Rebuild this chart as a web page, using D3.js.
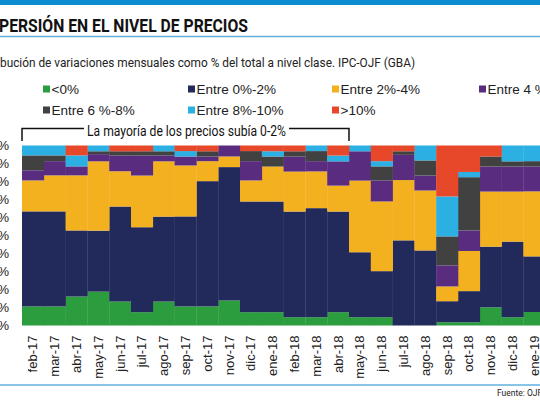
<!DOCTYPE html>
<html><head><meta charset="utf-8">
<script src="https://cdn.jsdelivr.net/npm/d3@7"></script>
<style>body{margin:0;background:#fff;} svg{display:block;}</style>
</head><body>
<svg id="chart" width="540" height="405"></svg>
<script>
// ---- data ----
const months = ["feb-17","mar-17","abr-17","may-17","jun-17","jul-17","ago-17","sep-17","oct-17","nov-17","dic-17","ene-18",
                "feb-18","mar-18","abr-18","may-18","jun-18","jul-18","ago-18","sep-18","oct-18","nov-18","dic-18","ene-19"];
const seriesNames = ["<0%","Entre 0%-2%","Entre 2%-4%","Entre 4 %-6%","Entre 6 %-8%","Entre 8%-10%",">10%"];
const seriesColors = ["#2b9d3f","#222a5c","#f3b01f","#5a2c80","#414141","#2cafe2","#e7482a"];
const negative  = [10.6,10.6,16.1,18.8,13.3,7.4,13.3,10.6,10.6,13.9,7.4,7.4,4.6,4.6,7.4,4.6,4.6,0,0,1.8,1.8,10.1,4.6,7.5];
const from0to2  = [52.8,52.8,36.7,33.9,52.8,47.2,47.2,50.0,69.6,74.1,61.5,61.5,58.7,60.6,55.9,36.1,25.6,47.3,41.7,11.7,17.3,33.7,42.0,30.9];
const from2to4  = [17.2,20.0,30.6,38.5,19.6,28.7,30.7,28.3,11.1,5.9,11.7,19.4,22.2,20.4,14.4,39.8,38.7,33.5,33.3,8.2,22.3,30.6,27.8,36.1];
const from4to6  = [5.6,7.9,5.0,4.0,8.7,11.1,3.2,5.0,2.6,6.1,10.7,0,8.3,5.7,13.5,16.3,11.7,14.0,8.3,11.7,11.4,13.9,13.9,13.9];
const from6to8  = [8.3,3.2,0,1.6,2.4,2.4,2.4,0,2.9,0,5.6,5.6,3.0,5.6,0,0,7.8,2.0,8.4,16.1,29.6,5.6,2.9,2.9];
const from8to10 = [5.5,5.5,6.1,3.2,0,0,3.2,3.0,0,0,0,2.9,0,3.1,3.2,3.2,2.9,0,8.3,22.2,2.9,0,8.8,8.7];
const over10    = [0,0,5.5,0,3.2,3.2,0,3.1,3.2,0,3.1,3.2,3.2,0,5.6,0,8.7,3.2,0,28.3,14.7,6.1,0,0];
const yTicks = [0,10,20,30,40,50,60,70,80,90,100];

const seriesValues = [negative, from0to2, from2to4, from4to6, from6to8, from8to10, over10];
const keys = seriesNames;
const table = months.map((m,i)=>{ const o={month:m}; keys.forEach((k,j)=>o[k]=seriesValues[j][i]); return o; });

const svg = d3.select("#chart");
const FONT = "'Liberation Sans', Arial, sans-serif";

// header decorations
svg.append("rect").attr("x",0).attr("y",0).attr("width",540).attr("height",5).attr("fill","#0b8ed1");
svg.append("line").attr("x1",0).attr("x2",540).attr("y1",36.5).attr("y2",36.5).attr("stroke","#5fb0dc").attr("stroke-width",1.5);
svg.append("line").attr("x1",0).attr("x2",540).attr("y1",385).attr("y2",385).attr("stroke","#5fb0dc").attr("stroke-width",1.5);

// fit a cropped text so that its visible part spans [x0,x1]
function croppedText(full, hiddenPrefix, x0, x1, y, size, weight, family, fill){
  const t = svg.append("text").attr("y",y).attr("font-size",size).attr("font-weight",weight)
    .attr("font-family",family).attr("fill",fill).text(full);
  const wFull = t.node().getComputedTextLength();
  const tmp = svg.append("text").attr("font-size",size).attr("font-weight",weight).attr("font-family",family)
    .text(full.slice(hiddenPrefix.length));
  const wVis = tmp.node().getComputedTextLength(); tmp.remove();
  const s = (x1-x0)/wVis;
  t.attr("x", x1 - wFull*s).attr("textLength", wFull*s).attr("lengthAdjust","spacingAndGlyphs");
  return t;
}
croppedText("DISPERSIÓN EN EL NIVEL DE PRECIOS","DIS",-1,248,32,19,700,"Roboto, 'Liberation Sans', sans-serif","#111");
croppedText("Distribución de variaciones mensuales como % del total a nivel clase. IPC-OJF (GBA)","Distri",0,415,67,13,400,"Roboto, 'Liberation Sans', sans-serif","#222");

// legend
const legendPos = [[43,89],[188,89],[332,89],[479,89],[43,110],[188,110],[332,110]];
seriesNames.forEach((n,i)=>{
  const [lx,ly] = legendPos[i];
  svg.append("rect").attr("x",lx).attr("y",ly-3.5).attr("width",7).attr("height",7).attr("fill",seriesColors[i]);
  svg.append("text").attr("x",lx+8.5).attr("y",ly+4.8).attr("font-family",FONT).attr("font-size",13.5)
    .attr("fill","#222").text(n);
});

// scales
const x = d3.scaleBand().domain(months).range([22, 22+24*21.8]).paddingInner(0).paddingOuter(0);
const y = d3.scaleLinear().domain([0,100]).range([325.5,145.5]);

const stack = d3.stack().keys(keys);
const layers = stack(table);

svg.append("g").selectAll("g").data(layers).join("g")
  .attr("fill",(d,i)=>seriesColors[i])
  .selectAll("rect").data(d=>d).join("rect")
  .attr("x",d=>x(d.data.month))
  .attr("width",x.bandwidth()+0.3)
  .attr("y",d=>y(d[1]))
  .attr("height",d=>Math.max(0,y(d[0])-y(d[1])));

// y axis
const yAxis = svg.append("g").attr("transform","translate(9,0)")
  .call(d3.axisLeft(y).tickValues(yTicks).tickSize(0).tickPadding(0).tickFormat(d=>d+"%"));
yAxis.select(".domain").remove();
yAxis.selectAll("text").attr("font-family",FONT).attr("font-size",13).attr("fill","#222");

// x axis
const xAxis = svg.append("g").attr("transform","translate(0,325.5)")
  .call(d3.axisBottom(x).tickSize(0));
xAxis.select(".domain").remove();
xAxis.selectAll("text").attr("font-family",FONT).attr("font-size",13).attr("fill","#222")
  .attr("transform","rotate(-90)").attr("x",-10).attr("y",0).attr("dy","0.35em").style("text-anchor","end");

// bracket annotation
const bx0 = x("feb-17"), bx1 = x("abr-18")+x.bandwidth();
const by = 128.5;
const ann = svg.append("text").attr("y",136).attr("font-family","Roboto, 'Liberation Sans', sans-serif")
  .attr("font-size",14).attr("fill","#111").text("La mayoría de los precios subía 0-2%");
ann.attr("x",87).attr("textLength",199).attr("lengthAdjust","spacingAndGlyphs");
const bp = d3.path();
bp.moveTo(bx0, 141); bp.lineTo(bx0, by); bp.lineTo(84, by);
bp.moveTo(289, by); bp.lineTo(bx1, by); bp.lineTo(bx1, 141);
svg.append("path").attr("d",bp.toString()).attr("fill","none").attr("stroke","#111").attr("stroke-width",1.5);

// source
svg.append("text").attr("x",497).attr("y",396).attr("font-family","Roboto, 'Liberation Sans', sans-serif")
  .attr("font-size",8.5).attr("fill","#222").text("Fuente: OJF & Asociados");
</script>
</body></html>
